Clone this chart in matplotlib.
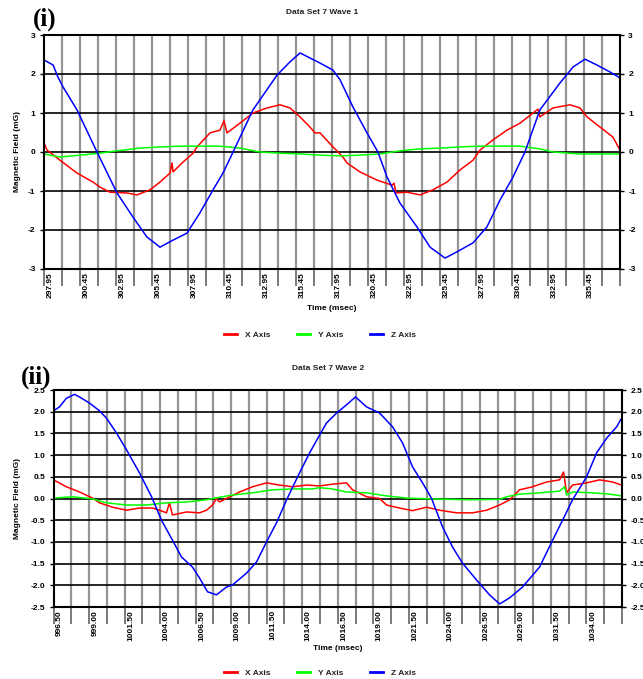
import numpy as np
import matplotlib
matplotlib.use("Agg")
import matplotlib.pyplot as plt
from matplotlib.lines import Line2D
from matplotlib.transforms import ScaledTranslation

plt.rcParams['font.family'] = ['Liberation Sans', 'DejaVu Sans']
plt.rcParams['axes.unicode_minus'] = False

# ---------------- Data Set 7 Wave 1 ----------------
w1_x_t = [297.95, 298.16, 299.06, 300.24, 301.35, 301.84, 302.53, 303.71, 304.41, 305.31,
          306.01, 306.70, 306.84, 306.91, 307.60, 308.30, 308.58, 309.48, 310.17, 310.45,
          310.66, 311.56, 312.46, 313.44, 314.34, 315.03, 315.73, 316.42, 316.77, 317.12,
          318.02, 318.71, 318.99, 319.89, 321.07, 322.12, 322.26, 322.39, 323.16, 324.06,
          324.96, 325.94, 326.84, 327.74, 328.23, 329.13, 330.10, 331.01, 331.91, 332.26,
          332.39, 333.30, 334.48, 335.17, 335.66, 336.56, 337.46, 337.95]
w1_x_v = [0.23, 0.05, -0.21, -0.54, -0.77, -0.90, -1.03, -1.05, -1.10, -0.97,
          -0.77, -0.54, -0.28, -0.51, -0.26, -0.03, 0.13, 0.49, 0.56, 0.80,
          0.49, 0.74, 1.00, 1.13, 1.21, 1.13, 0.90, 0.64, 0.49, 0.49,
          0.13, -0.13, -0.28, -0.51, -0.72, -0.85, -0.80, -1.05, -1.03, -1.10,
          -0.97, -0.77, -0.46, -0.21, 0.05, 0.31, 0.56, 0.74, 1.00, 1.10,
          0.90, 1.13, 1.21, 1.13, 0.90, 0.64, 0.38, 0.05]

w1_y_t = [297.95, 299.06, 300.45, 301.84, 303.02, 304.62, 306.01, 307.39, 308.78, 310.17,
          311.56, 312.95, 314.34, 315.73, 317.12, 318.51, 319.89, 321.28, 322.67, 324.06,
          325.45, 326.84, 328.23, 329.62, 331.01, 332.39, 333.30, 335.17, 337.95]
w1_y_v = [-0.05, -0.13, -0.08, -0.03, 0.03, 0.10, 0.13, 0.15, 0.15, 0.15,
          0.10, 0.00, -0.03, -0.05, -0.08, -0.10, -0.08, -0.05, 0.03, 0.08,
          0.10, 0.13, 0.15, 0.15, 0.15, 0.08, 0.00, -0.05, -0.05]

w1_z_t = [297.95, 298.58, 298.92, 299.27, 300.24, 301.63, 303.02, 304.13, 305.10, 305.80,
          306.00, 306.91, 307.88, 308.78, 309.69, 310.38, 311.08, 312.46, 314.13, 315.03,
          315.73, 316.42, 317.12, 318.02, 318.51, 319.41, 320.38, 321.14, 321.77, 322.67,
          323.85, 324.76, 325.80, 326.63, 327.74, 328.71, 329.62, 330.52, 331.35, 332.39,
          333.78, 334.69, 335.52, 336.35, 337.26, 337.95]
w1_z_v = [2.36, 2.23, 1.92, 1.67, 1.08, 0.00, -1.05, -1.67, -2.18, -2.38,
          -2.44, -2.26, -2.08, -1.56, -0.97, -0.54, 0.00, 1.08, 1.97, 2.31,
          2.54, 2.41, 2.28, 2.10, 1.85, 1.15, 0.49, 0.00, -0.64, -1.31,
          -1.92, -2.44, -2.72, -2.56, -2.33, -1.92, -1.23, -0.64, 0.00, 1.08,
          1.77, 2.18, 2.38, 2.23, 2.05, 1.90]

# ---------------- Data Set 7 Wave 2 ----------------
w2_x_t = [996.50, 997.41, 998.33, 999.24, 999.74, 1000.65, 1001.64, 1002.55, 1003.47, 1003.96,
          1004.45, 1004.66, 1004.87, 1005.86, 1006.77, 1007.27, 1007.69, 1007.97, 1008.18, 1008.67,
          1009.59, 1010.50, 1011.49, 1012.40, 1013.32, 1014.30, 1015.22, 1016.13, 1017.12, 1017.54,
          1018.53, 1019.44, 1019.93, 1020.85, 1021.76, 1022.75, 1023.66, 1024.86, 1025.99, 1026.97,
          1027.89, 1028.59, 1029.29, 1030.21, 1031.19, 1032.11, 1032.39, 1032.60, 1033.02, 1034.01,
          1034.92, 1035.84, 1036.47]
w2_x_v = [0.43, 0.27, 0.15, 0.01, -0.10, -0.20, -0.27, -0.22, -0.22, -0.27,
          -0.33, -0.10, -0.38, -0.31, -0.33, -0.27, -0.15, 0.00, -0.08, 0.00,
          0.15, 0.27, 0.36, 0.31, 0.27, 0.31, 0.29, 0.33, 0.36, 0.20,
          0.04, 0.00, -0.15, -0.22, -0.28, -0.20, -0.27, -0.33, -0.33, -0.27,
          -0.15, -0.03, 0.20, 0.27, 0.38, 0.43, 0.61, 0.13, 0.31, 0.36,
          0.43, 0.38, 0.31]

w2_y_t = [996.50, 997.84, 999.24, 1000.23, 1001.64, 1003.04, 1004.45, 1005.86, 1007.27, 1007.69,
          1009.10, 1010.50, 1011.91, 1013.32, 1014.73, 1015.22, 1016.13, 1017.12, 1018.53, 1019.93,
          1021.34, 1023.17, 1025.78, 1027.89, 1028.38, 1029.29, 1030.70, 1032.11, 1032.46, 1032.60,
          1033.02, 1034.43, 1035.63, 1036.47]
w2_y_v = [0.01, 0.04, -0.01, -0.10, -0.15, -0.15, -0.10, -0.08, -0.03, 0.00,
          0.08, 0.13, 0.20, 0.22, 0.22, 0.25, 0.22, 0.15, 0.13, 0.06,
          0.01, -0.01, -0.03, -0.02, 0.04, 0.10, 0.13, 0.17, 0.27, 0.08,
          0.15, 0.13, 0.10, 0.06]

w2_z_t = [996.50, 996.92, 997.41, 997.98, 998.33, 999.03, 999.74, 1000.23, 1000.93, 1001.64,
          1002.55, 1003.40, 1004.10, 1004.87, 1005.51, 1006.28, 1006.77, 1007.34, 1007.97, 1008.67,
          1009.10, 1010.08, 1010.79, 1011.49, 1012.19, 1012.90, 1013.81, 1014.52, 1015.22, 1015.71,
          1016.42, 1017.12, 1017.75, 1018.53, 1019.44, 1020.36, 1021.06, 1021.76, 1022.47, 1023.10,
          1023.88, 1024.58, 1025.28, 1026.27, 1027.18, 1027.89, 1028.59, 1029.50, 1030.70, 1031.62,
          1032.32, 1033.02, 1034.01, 1034.71, 1035.42, 1036.12, 1036.47]
w2_z_v = [2.02, 2.11, 2.31, 2.40, 2.34, 2.20, 2.02, 1.85, 1.51, 1.12,
          0.59, 0.04, -0.50, -0.96, -1.35, -1.58, -1.83, -2.15, -2.22, -2.04,
          -1.99, -1.72, -1.46, -1.00, -0.56, -0.03, 0.59, 1.05, 1.46, 1.74,
          1.97, 2.16, 2.34, 2.11, 1.97, 1.65, 1.28, 0.73, 0.36, 0.00,
          -0.66, -1.12, -1.49, -1.88, -2.22, -2.43, -2.29, -2.04, -1.58, -0.96,
          -0.50, -0.03, 0.50, 1.05, 1.39, 1.65, 1.85]

# axis definitions
w1_labels = ["297.95", "300.45", "302.95", "305.45", "307.95", "310.45", "312.95", "315.45",
             "317.95", "320.45", "322.95", "325.45", "327.95", "330.45", "332.95", "335.45"]
w2_labels = ["996.50", "999.00", "1001.50", "1004.00", "1006.50", "1009.00", "1011.50", "1014.00",
             "1016.50", "1019.00", "1021.50", "1024.00", "1026.50", "1029.00", "1031.50", "1034.00"]
w1_yticks = [-3, -2, -1, 0, 1, 2, 3]
w2_yticks = [-2.5, -2.0, -1.5, -1.0, -0.5, 0.0, 0.5, 1.0, 1.5, 2.0, 2.5]

W, H = 643, 679
fig = plt.figure(figsize=(W / 100, H / 100), dpi=100)

RED, GREEN, BLUE = '#FF0000', '#00FF00', '#0000FF'
FS = 6
GRID_GRAY = '#959595'


def setup(ax, t0, labels, yticks, yfmt, title, title_xy, label, label_xy, xlab_y):
    n_grid = 2 * len(labels)
    grid_pos = [t0 + 1.25 * k for k in range(n_grid + 1)]
    ax.set_xlim(grid_pos[0], grid_pos[-1])
    ax.set_ylim(yticks[0], yticks[-1])
    for g in grid_pos[1:-1]:
        ax.axvline(g, color=GRID_GRAY, lw=1.6, zorder=1)
    for yv in yticks[1:-1]:
        ax.axhline(yv, color='black', lw=1.2, zorder=1)
    ax.set_xticks(grid_pos)
    lab = []
    for k in range(len(grid_pos)):
        lab.append(labels[k // 2] if (k % 2 == 0 and k // 2 < len(labels)) else '')
    ax.set_xticklabels(lab, rotation=90, fontsize=FS, fontweight='bold', va='top')
    ax.tick_params(axis='x', length=12.2, width=1.4, color='#7a7a7a', pad=-10.0,
                   direction='out')
    off = ScaledTranslation(6 / 100, 0, fig.dpi_scale_trans)
    for tl in ax.get_xticklabels():
        tl.set_transform(tl.get_transform() + off)
    ax.set_yticks(yticks)
    ax.set_yticklabels([yfmt % v for v in yticks], fontsize=FS, fontweight='bold')
    ax.tick_params(axis='y', length=3, width=1.0, pad=3, left=True, right=True,
                   labelleft=True, labelright=True, color='black')
    for s in ax.spines.values():
        s.set_color('black')
        s.set_linewidth(1.5)
        s.set_zorder(5)
    fig.text(title_xy[0] / W, 1 - title_xy[1] / H, title, ha='center', va='center',
             fontsize=FS, fontweight='bold', color='#222222')
    fig.text(label_xy[0] / W, 1 - label_xy[1] / H, label, ha='center', va='center',
             fontsize=18, fontweight='bold', family='Liberation Serif')
    pos = ax.get_position()
    fig.text(18 / W, pos.y0 + pos.height / 2, 'Magnetic Field (mG)', rotation=90,
             ha='center', va='center', fontsize=FS, fontweight='bold')
    fig.text(pos.x0 + pos.width / 2, 1 - xlab_y / H, 'Time (msec)', ha='center', va='center',
             fontsize=FS, fontweight='bold')


def legend(y_px):
    handles = [Line2D([], [], color=RED, lw=2), Line2D([], [], color=GREEN, lw=2),
               Line2D([], [], color=BLUE, lw=2)]
    fig.legend(handles, ['X Axis', 'Y Axis', 'Z Axis'], loc='center',
               bbox_to_anchor=(320 / W, 1 - y_px / H), ncol=3, frameon=False,
               prop={'size': FS, 'weight': 'bold'}, handlelength=1.6, handletextpad=0.9,
               columnspacing=3.2, labelcolor='#222222')


# Top panel
ax1 = fig.add_axes([44 / W, 1 - 269 / H, 576 / W, 234 / H])
ax1.plot(w1_x_t, w1_x_v, color=RED, lw=1.1, zorder=3)
ax1.plot(w1_y_t, w1_y_v, color=GREEN, lw=1.1, zorder=3)
ax1.plot(w1_z_t, w1_z_v, color=BLUE, lw=1.1, zorder=3)
setup(ax1, 297.95, w1_labels, w1_yticks, '%d', 'Data Set 7 Wave 1', (322, 12.5),
      '(i)', (45, 19), 309)
legend(335)

# Bottom panel
ax2 = fig.add_axes([53.5 / W, 1 - 607 / H, 568.5 / W, 217 / H])
ax2.plot(w2_x_t, w2_x_v, color=RED, lw=1.1, zorder=3)
ax2.plot(w2_y_t, w2_y_v, color=GREEN, lw=1.1, zorder=3)
ax2.plot(w2_z_t, w2_z_v, color=BLUE, lw=1.1, zorder=3)
setup(ax2, 996.50, w2_labels, w2_yticks, '%.1f', 'Data Set 7 Wave 2', (328, 368),
      '(ii)', (36, 377), 649)
legend(673)

fig.savefig('out.png', dpi=100)
